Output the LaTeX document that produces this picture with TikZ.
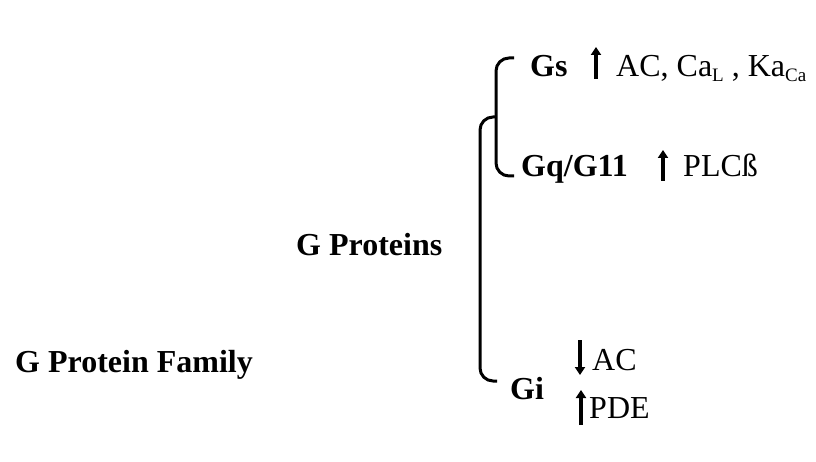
\documentclass[tikz,border=0pt]{standalone}
\usepackage{fontspec}
\setmainfont{Liberation Serif}
\usetikzlibrary{arrows.meta}
\newcommand{\subsm}[1]{\raisebox{-0.3ex}{\fontsize{19}{19}\selectfont #1}}
\begin{document}
\begin{tikzpicture}[x=1pt,y=-1pt,
  lbl/.style={anchor=base west,inner sep=0pt,font=\fontsize{32}{38}\selectfont\bfseries},
  txt/.style={anchor=base west,inner sep=0pt,font=\fontsize{32}{38}\selectfont},
  brk/.style={line width=3pt,rounded corners=13pt},
  updn/.style={line width=4.5pt,-{Triangle[length=8pt,width=10pt]}}]
\useasboundingbox (0,0) rectangle (816,462);
\node[lbl] (fam) at (15,372) {G Protein Family};
\node[lbl] (gp) at (296,256) {G Proteins};
\node[lbl] (gs) at (530,77) {Gs};
\node[txt] (gst) at (616,77) {AC, Ca\subsm{L} , Ka\subsm{Ca}};
\node[lbl] (gq) at (521,177) {Gq/G11};
\node[txt] (gqt) at (683,177) {PLCß};
\node[lbl] (gi) at (510,399) {Gi};
\node[txt] (gia) at (592,370) {AC};
\node[txt] (gib) at (589,418) {PDE};
% brackets
\draw[brk] (514,58) -- (496,58) -- (496,176) -- (514,176);
\draw[brk] (496,117) -- (480,117) -- (480,381) -- (497,381);
% arrows
\coordinate (a1s) at (596,79); \coordinate (a1e) at (596,47);
\coordinate (a2s) at (663,181); \coordinate (a2e) at (663,150);
\coordinate (a3s) at (580,340); \coordinate (a3e) at (580,375);
\coordinate (a4s) at (581,425); \coordinate (a4e) at (581,390);
\draw[updn] (a1s) -- (a1e);
\draw[updn] (a2s) -- (a2e);
\draw[updn] (a3s) -- (a3e);
\draw[updn] (a4s) -- (a4e);
\end{tikzpicture}
\end{document}
